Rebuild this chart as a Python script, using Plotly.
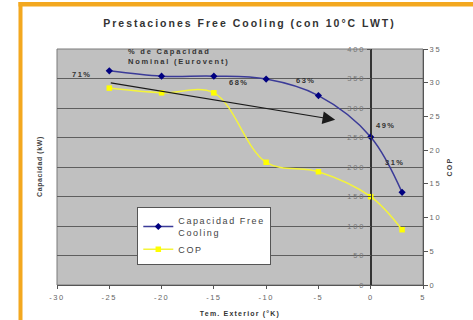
import plotly.graph_objects as go

# ---- data ----
temp_ext = [-25, -20, -15, -10, -5, 0, 3]
capacidad_kw = [363, 354, 354, 349, 321, 251, 157]
cop = [29.2, 28.5, 28.5, 18.2, 16.8, 13.1, 8.2]

pct_labels = ["71%", "68%", "63%", "49%", "31%"]
pct_x = [-27.6, -12.6, -6.2, 1.5, 2.3]
pct_y = [357, 344, 346, 270, 207]

arrow_from = [-25, 343]
arrow_to = [-3.4, 280]

x_ticks = [-30, -25, -20, -15, -10, -5, 0, 5]
cap_ticks = [0, 50, 100, 150, 200, 250, 300, 350, 400]
cop_ticks = [0, 5, 10, 15, 20, 25, 30, 35]

title_text = "Prestaciones Free Cooling (con 10°C LWT)"
x_title = "Tem. Exterior (°K)"
y_title = "Capacidad (kW)"
y2_title = "COP"
note_lines = ["% de Capacidad", "Nominal (Eurovent)"]
legend_names = [["Capacidad Free", "Cooling"], ["COP"]]

FONT = "Arial, Liberation Sans, sans-serif"


def sp(t, ls):
    return f"<span style='letter-spacing:{ls}px'>{t}</span>"


fig = go.Figure()
fig.add_trace(go.Scatter(
    x=temp_ext, y=capacidad_kw, yaxis="y",
    name="<br>".join(sp(t, 1.6) for t in legend_names[0]),
    mode="lines+markers",
    line=dict(color="#3b3b98", width=1.5, shape="spline", smoothing=1),
    marker=dict(symbol="diamond", size=5.5, color="#000080"),
))
fig.add_trace(go.Scatter(
    x=temp_ext, y=cop, yaxis="y2",
    name="<br>".join(sp(t, 1.6) for t in legend_names[1]),
    mode="lines+markers",
    line=dict(color="#f4f43a", width=1.5, shape="spline", smoothing=1),
    marker=dict(symbol="square", size=5.5, color="#ffff00"),
))

# percentage labels
for t, x, y in zip(pct_labels, pct_x, pct_y):
    fig.add_annotation(x=x, y=y, xref="x", yref="y", text="<b>" + sp(t, 1.5) + "</b>",
                       showarrow=False, font=dict(family=FONT, size=7.5, color="#333"))

fig.add_annotation(x=-23.4, y=387, xref="x", yref="y",
                   text="<br>".join("<b>" + sp(t, 1.8) + "</b>" for t in note_lines),
                   showarrow=False, xanchor="left", yanchor="middle", align="left",
                   font=dict(family=FONT, size=7.5, color="#333"))

fig.add_annotation(x=arrow_to[0], y=arrow_to[1], ax=arrow_from[0], ay=arrow_from[1],
                   xref="x", yref="y", axref="x", ayref="y", text="",
                   showarrow=True, arrowhead=2, arrowsize=2.1, arrowwidth=1.2,
                   arrowcolor="#1a1a1a")

# left axis title as text at the plot's left side
fig.add_annotation(x=(34 - 57) / 366, y=0.5, xref="paper", yref="paper",
                   text="<b>" + sp(y_title, 0.6) + "</b>", textangle=-90, showarrow=False,
                   font=dict(family=FONT, size=7, color="#444"))

H0, H1 = 285, 49
def py(p):
    return (H0 - p) / (H0 - H1)
def px(p):
    return (p - 57) / 366

orange = "#f3a81f"
fig.add_shape(type="rect", xref="paper", yref="paper", x0=px(18.5), x1=px(22.5),
              y0=py(330), y1=py(2), fillcolor=orange, line_width=0, layer="above")
fig.add_shape(type="rect", xref="paper", yref="paper", x0=px(18.5), x1=px(480),
              y0=py(6.5), y1=py(2), fillcolor=orange, line_width=0, layer="above")
fig.add_shape(type="rect", xref="paper", yref="paper", x0=0, x1=1, y0=0, y1=1,
              line=dict(color="#7a7a7a", width=1), layer="below")

fig.update_layout(
    width=473, height=320,
    margin=dict(l=57, r=50, t=49, b=35),
    paper_bgcolor="white", plot_bgcolor="#c0c0c0",
    font=dict(family=FONT, color="#444"),
    title=dict(text="<b>" + sp(title_text, 2.0) + "</b>", xref="paper", x=px(249.5),
               xanchor="center", yref="container", y=1 - 23 / 320, yanchor="middle",
               font=dict(family=FONT, size=10.5, color="#333")),
    showlegend=True,
    legend=dict(x=px(137.3), y=py(207.3), xanchor="left", yanchor="top",
                bgcolor="white", bordercolor="#555", borderwidth=1,
                font=dict(family=FONT, size=9, color="#444"), tracegroupgap=0),
    xaxis=dict(range=[-30, 5], tickvals=x_ticks, ticktext=[sp(v, 1.5) for v in x_ticks],
               automargin=False,
               showgrid=False, zeroline=True, zerolinecolor="#333", zerolinewidth=1,
               showline=True, linecolor="#555", ticks="outside", ticklen=3, tickcolor="#555",
               ticklabelstandoff=2,
               tickfont=dict(family=FONT, size=7.5, color="#666"),
               title=dict(text="<b>" + sp(x_title, 1.2) + "</b>", standoff=10,
                          font=dict(family=FONT, size=7, color="#333"))),
    yaxis=dict(range=[0, 400], tickvals=cap_ticks, ticktext=[sp(v, 1.8) for v in cap_ticks],
               anchor="free", position=30 / 35, side="left", automargin=False,
               showgrid=True, gridcolor="#5e5e5e", gridwidth=1, zeroline=False,
               showline=True, linecolor="#333", ticks="outside", ticklen=4, tickcolor="#555",
               tickfont=dict(family=FONT, size=7.5, color="#777")),
    yaxis2=dict(range=[0, 35], tickvals=cop_ticks, ticktext=[sp(v, 1.8) for v in cop_ticks],
                overlaying="y", side="right", anchor="x", automargin=False,
                showgrid=False, zeroline=False, showline=True, linecolor="#555",
                ticks="outside", ticklen=4, tickcolor="#555",
                tickfont=dict(family=FONT, size=7.5, color="#666"),
                title=dict(text="<b>" + sp(y2_title, 1.2) + "</b>", standoff=6,
                           font=dict(family=FONT, size=7, color="#444"))),
)

fig.write_html("out.html")
